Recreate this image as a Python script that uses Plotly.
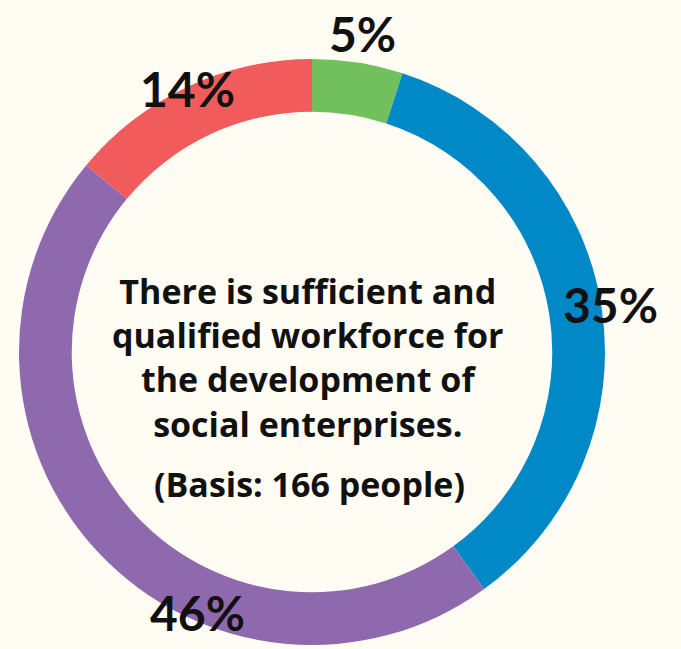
import math
import plotly.graph_objects as go

# Survey answers (share of respondents, %), in clockwise order from 12 o'clock
categories = ["Agree partly", "Agree", "Disagree", "Don't know"]
values = [5, 35, 46, 14]
colors = ["#71BF5D", "#0088C7", "#8F69AE", "#F15B5B"]

# Label placement styling: radial factor and angular nudge (degrees) per slice
label_radius = [1.10, 1.03, 0.97, 0.995]
label_nudge = [0, 0, -23, 0]

W, H = 681, 649
CX, CY, R = 312, 352, 293  # pie centre and outer radius in pixels

fig = go.Figure(
    go.Pie(
        labels=categories,
        values=values,
        marker=dict(colors=colors, line=dict(width=0)),
        hole=0.82,
        sort=False,
        direction="clockwise",
        rotation=0,
        textinfo="none",
        hoverinfo="label+percent",
        showlegend=False,
        domain=dict(
            x=[(CX - R) / W, (CX + R) / W],
            y=[1 - (CY + R) / H, 1 - (CY - R) / H],
        ),
    )
)

annotations = []
total = sum(values)
cum = 0
for v, rf, nudge in zip(values, label_radius, label_nudge):
    mid = (cum + v / 2) / total * 360 + nudge
    cum += v
    th = math.radians(mid)
    px = CX + R * rf * math.sin(th)
    py = CY - R * rf * math.cos(th)
    annotations.append(
        dict(
            x=px / W, y=1 - py / H, xref="paper", yref="paper",
            text=f"<b>{round(v / total * 100)}%</b>",
            showarrow=False, xanchor="center", yanchor="middle",
            font=dict(family="Lato", size=48, color="#111111"),
        )
    )

annotations.append(
    dict(
        x=(CX - 4) / W, y=1 - 357 / H, xref="paper", yref="paper",
        text="<b>There is sufficient and<br>qualified workforce for<br>"
             "the development of<br>social enterprises.</b>",
        showarrow=False, xanchor="center", yanchor="middle", align="center",
        font=dict(family="Open Sans", size=34, color="#111111"),
    )
)
annotations.append(
    dict(
        x=(CX - 3) / W, y=1 - 484 / H, xref="paper", yref="paper",
        text="<b>(Basis: 166 people)</b>",
        showarrow=False, xanchor="center", yanchor="middle",
        font=dict(family="Open Sans", size=34, color="#111111"),
    )
)

fig.update_layout(
    width=W, height=H,
    margin=dict(l=0, r=0, t=0, b=0),
    paper_bgcolor="#FEFCF3",
    plot_bgcolor="#FEFCF3",
    annotations=annotations,
)

fig.write_html("out.html")
